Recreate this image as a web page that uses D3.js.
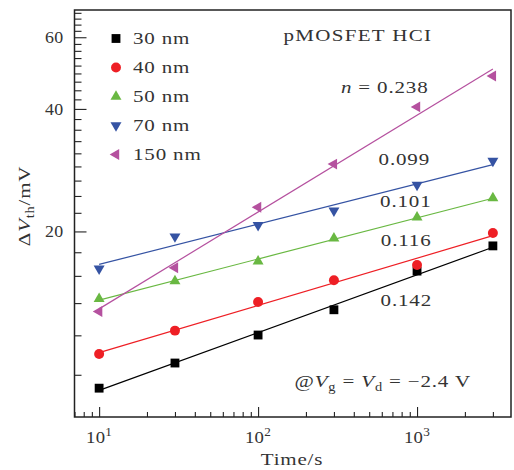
<!DOCTYPE html>
<html>
<head>
<meta charset="utf-8">
<script src="https://cdn.jsdelivr.net/npm/d3@7/dist/d3.min.js"></script>
<style>
  html, body { margin: 0; padding: 0; background: #fff; }
  svg { display: block; }
  text { font-family: "Liberation Serif", "Times New Roman", serif; fill: #333; }
</style>
</head>
<body>
<svg id="chart" width="514" height="470"></svg>
<script>
// ---- data ----
const times = [10, 30, 100, 300, 1000, 3000];
const seriesNames = ["30 nm", "40 nm", "50 nm", "70 nm", "150 nm"];
const v30  = [8.24, 9.50, 11.13, 12.84, 15.98, 18.43];
const v40  = [10.0, 11.41, 13.41, 15.18, 16.54, 19.82];
const v50  = [13.66, 15.11, 16.88, 19.24, 21.66, 24.16];
const v70  = [16.21, 19.43, 20.72, 22.48, 26.02, 29.79];
const v150 = [12.72, 16.28, 22.94, 29.27, 40.46, 48.19];
const slopes = [0.142, 0.116, 0.101, 0.099, 0.238];
const slopeLabels = ["0.142", "0.116", "0.101", "0.099", "0.238"];
const xTickExp = [1, 2, 3];
const yTickValues = [20, 40, 60];
const xDomain = [7, 3900];
const yDomain = [7, 70];

// ---- style ----
const colors = ["#000000", "#ee1f25", "#69b842", "#3553a3", "#b5519f"];
const symbols = ["square", "circle", "up", "down", "left"];
const SX = 1.2;       // horizontal stretch of text (mimic wide serif)
const FS = 17.5;

const svg = d3.select("#chart");
const L = 74.5, R = 511, T = 10, B = 417;

const x = d3.scaleLog().domain(xDomain).range([L, R]);
const y = d3.scaleLog().domain(yDomain).range([B, T]);

function txt(px, py, anchor, size, rot, sx, ls) {
  const g = svg.append("g")
    .attr("transform", `translate(${px},${py})` + (rot ? ` rotate(${rot})` : "") + ` scale(${sx || SX},1)`);
  return g.append("text").attr("text-anchor", anchor)
    .style("font-size", (size || FS) + "px")
    .style("letter-spacing", (ls === undefined ? 0.7 : ls) + "px");
}

// ---- axes ----
const xMinor = [];
for (let e = 0; e <= 3; e++) for (let m = 1; m <= 9; m++) {
  const v = m * Math.pow(10, e);
  if (v >= xDomain[0] && v <= xDomain[1] && m !== 1) xMinor.push(v);
}
const xAxisMinor = d3.axisBottom(x).tickValues(xMinor).tickSize(-5).tickFormat("");
const xAxisMajor = d3.axisBottom(x).tickValues(xTickExp.map(e => Math.pow(10, e))).tickSize(-10).tickFormat("");
const yMinor = [];
for (let i = 1; i < 40; i++) {
  const v = i * 20 / 9;
  if (i % 9 !== 0 && v >= yDomain[0] && v <= yDomain[1]) yMinor.push(v);
}
const yAxisMinor = d3.axisLeft(y).tickValues(yMinor).tickSize(-7).tickFormat("");
const yAxisMajor = d3.axisLeft(y).tickValues(yTickValues).tickSize(-12).tickFormat("");

[xAxisMinor, xAxisMajor].forEach(a => {
  const g = svg.append("g").attr("transform", `translate(0,${B})`).call(a);
  g.select(".domain").remove();
  g.selectAll("line").attr("stroke", "#222").attr("stroke-width", 1.1);
});
[yAxisMinor, yAxisMajor].forEach(a => {
  const g = svg.append("g").attr("transform", `translate(${L},0)`).call(a);
  g.select(".domain").remove();
  g.selectAll("line").attr("stroke", "#222").attr("stroke-width", 1.1);
});

svg.append("rect").attr("x", L).attr("y", T).attr("width", R - L).attr("height", B - T)
  .attr("fill", "none").attr("stroke", "#222").attr("stroke-width", 1.5);

// tick labels
xTickExp.forEach(e => {
  const t = txt(x(Math.pow(10, e)), 443, "middle", 17, 0, 1.1, 0.3);
  t.append("tspan").text("10");
  t.append("tspan").attr("dy", -7).style("font-size", "12px").text(String(e));
});
yTickValues.forEach(v => {
  txt(63.5, y(v) + 6, "end", 17, 0, 1.05, 0.3).text(String(v));
});

// axis titles
txt(292, 465, "middle", FS).text("Time/s");
{
  const t = txt(30, 206, "middle", FS, -90);
  t.append("tspan").text("Δ");
  t.append("tspan").style("font-style", "italic").text("V");
  t.append("tspan").attr("dy", 4).style("font-size", "12px").text("th");
  t.append("tspan").attr("dy", -4).text("/mV");
}

// ---- data series ----
const allSeries = [v30, v40, v50, v70, v150];
const lx = times.map(t => Math.log10(t));

function symbolPath(kind) {
  if (kind === "square") return d3.symbol(d3.symbolSquare, 78)();
  if (kind === "circle") return d3.symbol(d3.symbolCircle, 78)();
  return d3.symbol(d3.symbolTriangle, 52)();
}
function symbolRot(kind) {
  if (kind === "down") return 180;
  if (kind === "left") return -90;
  return 0;
}

allSeries.forEach((vals, i) => {
  const n = slopes[i];
  const b = d3.mean(vals.map((v, k) => Math.log10(v) - n * lx[k]));
  const t0 = times[0], t1 = times[times.length - 1];
  const fit = [t0, t1].map(t => [t, Math.pow(10, b + n * Math.log10(t))]);
  svg.append("path")
    .attr("d", d3.line().x(d => x(d[0])).y(d => y(d[1]))(fit))
    .attr("fill", "none").attr("stroke", colors[i]).attr("stroke-width", 1.2);
  svg.append("g").selectAll("path").data(vals).join("path")
    .attr("d", symbolPath(symbols[i]))
    .attr("transform", (v, k) => `translate(${x(times[k])},${y(v)}) rotate(${symbolRot(symbols[i])})`)
    .attr("fill", colors[i]);
});

// ---- legend ----
seriesNames.forEach((name, i) => {
  const cy = 38.5 + i * 29;
  svg.append("path").attr("d", symbolPath(symbols[i]))
    .attr("transform", `translate(116,${cy}) rotate(${symbolRot(symbols[i])})`)
    .attr("fill", colors[i]);
  txt(133, cy + 5.8, "start", FS).text(name);
});

// ---- annotations ----
txt(283.5, 40.7, "start", FS, 0, SX, 1.1).text("pMOSFET HCI");
{
  const t = txt(428.5, 92.7, "end", FS);
  t.append("tspan").style("font-style", "italic").text("n");
  t.append("tspan").text(" = " + slopeLabels[4]);
}
txt(430, 165, "end", FS).text(slopeLabels[3]);
txt(431.5, 206.7, "end", FS).text(slopeLabels[2]);
txt(431.5, 246, "end", FS).text(slopeLabels[1]);
txt(432, 306, "end", FS).text(slopeLabels[0]);
{
  const t = txt(294.5, 387.3, "start", FS);
  t.append("tspan").text("@");
  t.append("tspan").style("font-style", "italic").text("V");
  t.append("tspan").attr("dy", 4).style("font-size", "12px").text("g");
  t.append("tspan").attr("dy", -4).text(" = ");
  t.append("tspan").style("font-style", "italic").text("V");
  t.append("tspan").attr("dy", 4).style("font-size", "12px").text("d");
  t.append("tspan").attr("dy", -4).text(" = −2.4 V");
}
</script>
</body>
</html>
